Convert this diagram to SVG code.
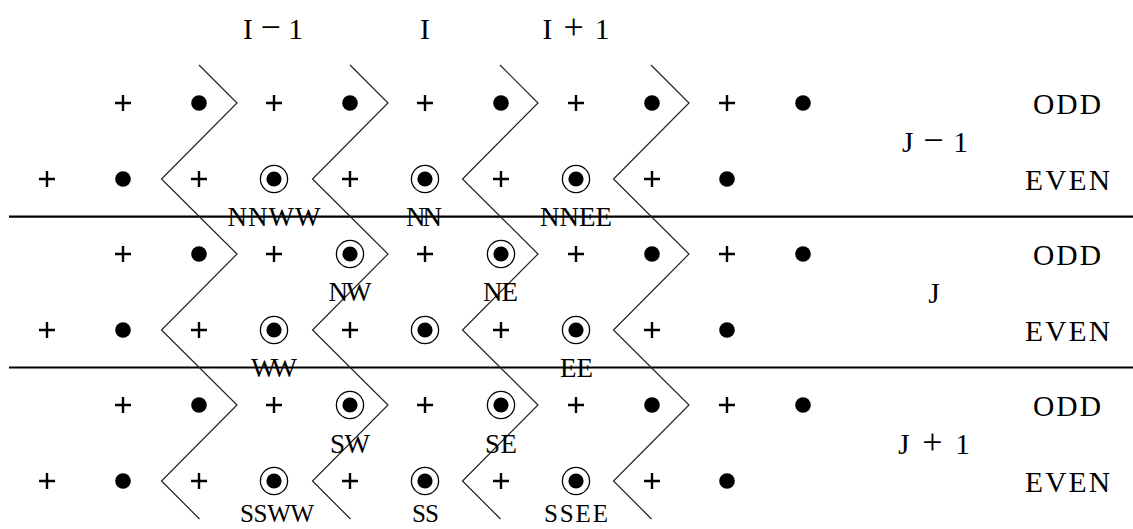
<svg xmlns="http://www.w3.org/2000/svg" xmlns:xlink="http://www.w3.org/1999/xlink" width="1133" height="529" viewBox="0 0 1133 529">
<style>
.t{font-family:"Liberation Serif","Times New Roman",serif;font-size:29.5px;fill:#000;text-anchor:middle}
.l{font-family:"Liberation Serif","Times New Roman",serif;font-size:27px;fill:#000;text-anchor:middle}
.b{font-size:25px}
.op{font-size:36px}
.zz{fill:none;stroke:#222;stroke-width:1.2}
.hl{stroke:#000;stroke-width:2.2}
.pl{stroke:#000;stroke-width:2.4}
.ring{fill:none;stroke:#000;stroke-width:1.3}
</style>
<defs>
<path id="plus" class="pl" d="M-8,0H8M0,-8V8"/>
<circle id="dot" r="7.8" fill="#000"/>
<g id="cdot"><circle r="7.6" fill="#000"/><circle class="ring" r="13.6"/></g>
</defs>
<rect width="1133" height="529" fill="#fff"/>
<g id="column-labels">
<text class="t" x="273" y="39" textLength="60" lengthAdjust="spacing">I <tspan class="op">−</tspan> 1</text>
<text class="t" x="425" y="39">I</text>
<text class="t" x="576" y="39" textLength="67" lengthAdjust="spacing">I <tspan class="op">+</tspan> 1</text>
</g>
<g id="row-labels">
<text class="t" x="1067" y="114" textLength="68" lengthAdjust="spacing">ODD</text>
<text class="t" x="1067.5" y="190" textLength="85" lengthAdjust="spacing">EVEN</text>
<text class="t" x="1067" y="265" textLength="68" lengthAdjust="spacing">ODD</text>
<text class="t" x="1067.5" y="341" textLength="85" lengthAdjust="spacing">EVEN</text>
<text class="t" x="1067" y="416" textLength="68" lengthAdjust="spacing">ODD</text>
<text class="t" x="1067.5" y="492" textLength="85" lengthAdjust="spacing">EVEN</text>
<text class="t" x="935" y="152" textLength="66" lengthAdjust="spacing">J <tspan class="op">−</tspan> 1</text>
<text class="t" x="934" y="303">J</text>
<text class="t" x="934" y="454" textLength="72" lengthAdjust="spacing">J <tspan class="op">+</tspan> 1</text>
</g>
<g id="connectors">
<line class="hl" x1="9" y1="216.7" x2="1133" y2="216.7"/>
<line class="hl" x1="9" y1="367.5" x2="1133" y2="367.5"/>
<polyline class="zz" points="199,65 237,103 161.5,179 237,254 161.5,330 237,405 161.5,481 199.5,519"/>
<polyline class="zz" points="350,65 388,103 312.5,179 388,254 312.5,330 388,405 312.5,481 350.5,519"/>
<polyline class="zz" points="500,65 538,103 462.5,179 538,254 462.5,330 538,405 462.5,481 500.5,519"/>
<polyline class="zz" points="651,65 689,103 613.5,179 689,254 613.5,330 689,405 613.5,481 651.5,519"/>
</g>
<g id="row-odd-1">
<use href="#plus" x="123" y="103"/><use href="#dot" x="199" y="103"/>
<use href="#plus" x="274" y="103"/><use href="#dot" x="350" y="103"/>
<use href="#plus" x="425" y="103"/><use href="#dot" x="501" y="103"/>
<use href="#plus" x="576" y="103"/><use href="#dot" x="652" y="103"/>
<use href="#plus" x="727" y="103"/><use href="#dot" x="803" y="103"/>
</g>
<g id="row-even-1">
<use href="#plus" x="47" y="179"/><use href="#dot" x="123" y="179"/>
<use href="#plus" x="199" y="179"/>
<use href="#plus" x="350" y="179"/>
<use href="#plus" x="501" y="179"/>
<use href="#plus" x="652" y="179"/><use href="#dot" x="727" y="179"/>
</g>
<g id="node-NNWW"><use href="#cdot" x="274" y="179"/><text class="l" x="274" y="226" textLength="93" lengthAdjust="spacing">NNWW</text></g>
<g id="node-NN"><use href="#cdot" x="425" y="179"/><text class="l" x="424" y="226" textLength="36" lengthAdjust="spacing">NN</text></g>
<g id="node-NNEE"><use href="#cdot" x="576" y="179"/><text class="l" x="576" y="226" textLength="72" lengthAdjust="spacing">NNEE</text></g>
<g id="row-odd-2">
<use href="#plus" x="123" y="254"/><use href="#dot" x="199" y="254"/>
<use href="#plus" x="274" y="254"/>
<use href="#plus" x="425" y="254"/>
<use href="#plus" x="576" y="254"/><use href="#dot" x="652" y="254"/>
<use href="#plus" x="727" y="254"/><use href="#dot" x="803" y="254"/>
</g>
<g id="node-NW"><use href="#cdot" x="350" y="254"/><text class="l" x="350" y="301" textLength="43" lengthAdjust="spacing">NW</text></g>
<g id="node-NE"><use href="#cdot" x="501" y="254"/><text class="l" x="500.5" y="301" textLength="35" lengthAdjust="spacing">NE</text></g>
<g id="row-even-2">
<use href="#plus" x="47" y="330"/><use href="#dot" x="123" y="330"/>
<use href="#plus" x="199" y="330"/>
<use href="#plus" x="350" y="330"/>
<use href="#plus" x="501" y="330"/>
<use href="#plus" x="652" y="330"/><use href="#dot" x="727" y="330"/>
</g>
<g id="node-WW"><use href="#cdot" x="274" y="330"/><text class="l" x="274" y="377" textLength="46" lengthAdjust="spacing">WW</text></g>
<g id="node-C"><use href="#cdot" x="425" y="330"/></g>
<g id="node-EE"><use href="#cdot" x="576" y="330"/><text class="l" x="576.5" y="377" textLength="33" lengthAdjust="spacing">EE</text></g>
<g id="row-odd-3">
<use href="#plus" x="123" y="405"/><use href="#dot" x="199" y="405"/>
<use href="#plus" x="274" y="405"/>
<use href="#plus" x="425" y="405"/>
<use href="#plus" x="576" y="405"/><use href="#dot" x="652" y="405"/>
<use href="#plus" x="727" y="405"/><use href="#dot" x="803" y="405"/>
</g>
<g id="node-SW"><use href="#cdot" x="350" y="405"/><text class="l" x="350" y="453" textLength="40" lengthAdjust="spacing">SW</text></g>
<g id="node-SE"><use href="#cdot" x="501" y="405"/><text class="l" x="501" y="453" textLength="32" lengthAdjust="spacing">SE</text></g>
<g id="row-even-3">
<use href="#plus" x="47" y="481"/><use href="#dot" x="123" y="481"/>
<use href="#plus" x="199" y="481"/>
<use href="#plus" x="350" y="481"/>
<use href="#plus" x="501" y="481"/>
<use href="#plus" x="652" y="481"/><use href="#dot" x="727" y="481"/>
</g>
<g id="node-SSWW"><use href="#cdot" x="274" y="481"/><text class="l b" x="277" y="522" textLength="74" lengthAdjust="spacing">SSWW</text></g>
<g id="node-SS"><use href="#cdot" x="425" y="481"/><text class="l b" x="425.5" y="522" textLength="27" lengthAdjust="spacing">SS</text></g>
<g id="node-SSEE"><use href="#cdot" x="576" y="481"/><text class="l b" x="576" y="522" textLength="64" lengthAdjust="spacing">SSEE</text></g>
</svg>
